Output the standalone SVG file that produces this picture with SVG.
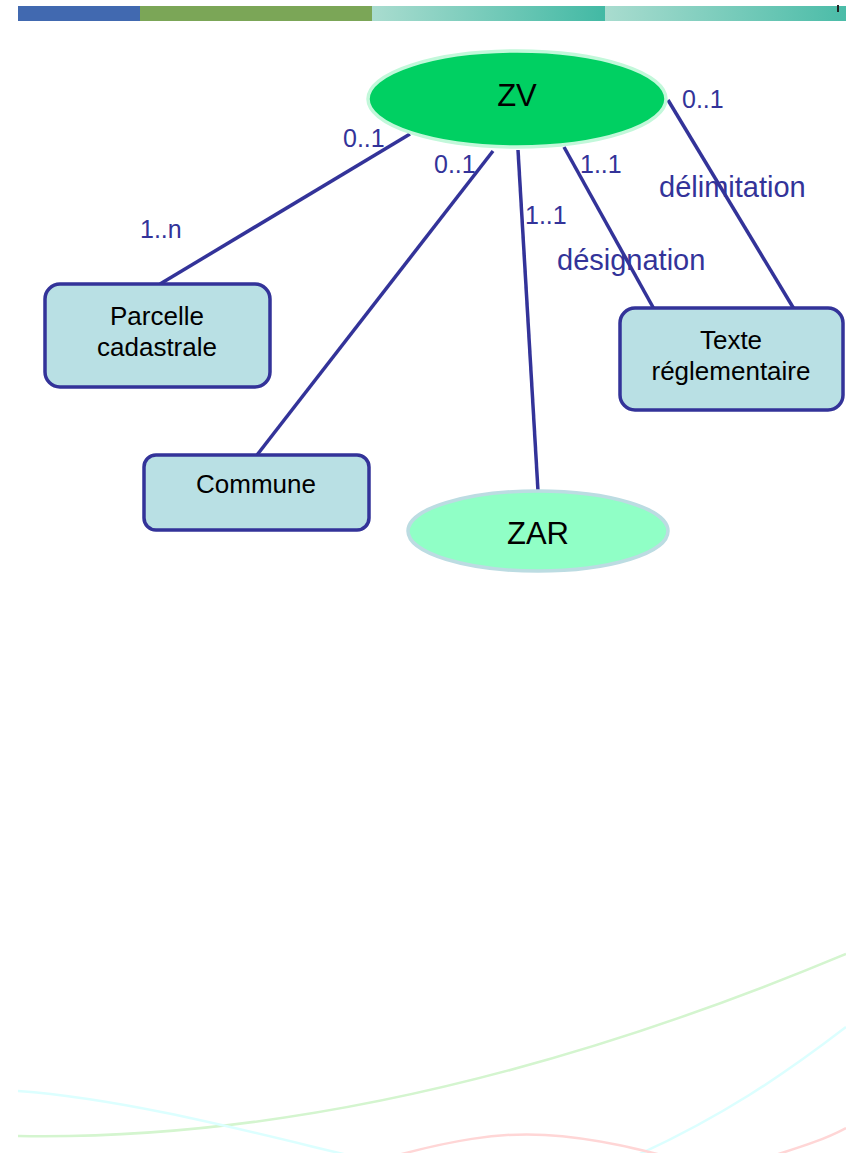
<svg xmlns="http://www.w3.org/2000/svg" width="846" height="1153" viewBox="0 0 846 1153">
  <defs>
    <linearGradient id="tealA" x1="0" y1="0" x2="1" y2="0">
      <stop offset="0" stop-color="#a9dccf"/>
      <stop offset="1" stop-color="#42b9a4"/>
    </linearGradient>
    <linearGradient id="tealB" x1="0" y1="0" x2="1" y2="0">
      <stop offset="0" stop-color="#a9dccf"/>
      <stop offset="1" stop-color="#4bbca8"/>
    </linearGradient>
    <style>
      .box { fill: #b9e0e4; stroke: #333399; stroke-width: 3.5; }
      .link { stroke: #333399; stroke-width: 3.5; fill: none; stroke-linecap: butt; }
      .lbl { font-family: "Liberation Sans", Arial, sans-serif; fill: #333399; font-size: 25px; }
      .role { font-family: "Liberation Sans", Arial, sans-serif; fill: #333399; font-size: 29px; }
      .name { font-family: "Liberation Sans", Arial, sans-serif; fill: #000000; font-size: 26px; text-anchor: middle; }
      .big { font-family: "Liberation Sans", Arial, sans-serif; fill: #000000; font-size: 31px; text-anchor: middle; }
      .wave { fill: none; stroke-width: 2.5; }
    </style>
  </defs>

  <rect width="846" height="1153" fill="#ffffff"/>

  <!-- header band -->
  <g id="header">
    <rect x="18" y="6" width="122" height="15" fill="#4169b0"/>
    <rect x="140" y="6" width="232" height="15" fill="#7ba657"/>
    <rect x="372" y="6" width="233" height="15" fill="url(#tealA)"/>
    <rect x="605" y="6" width="241" height="15" fill="url(#tealB)"/>
    <rect x="837" y="5" width="2" height="7" fill="#222222"/>
  </g>

  <!-- decorative waves -->
  <g id="waves">
    <path class="wave" stroke="#d4f5cf" d="M18,1136 C250,1140 520,1090 846,954"/>
    <path class="wave" stroke="#dcffff" d="M18,1091 C140,1100 280,1140 390,1165"/>
    <path class="wave" stroke="#dcffff" d="M615,1165 C720,1120 790,1070 846,1027"/>
    <path class="wave" stroke="#ffd6d6" d="M380,1160 C450,1140 500,1132 545,1135 C600,1138 650,1152 700,1165"/>
    <path class="wave" stroke="#ffd6d6" d="M760,1160 C790,1150 820,1142 846,1128"/>
  </g>

  <!-- connectors -->
  <g id="connectors">
    <line class="link" x1="410" y1="134" x2="160" y2="284"/>
    <line class="link" x1="493" y1="151" x2="257" y2="455"/>
    <line class="link" x1="518" y1="150" x2="538" y2="491"/>
    <line class="link" x1="564" y1="147" x2="654" y2="309"/>
    <line class="link" x1="668" y1="100" x2="794" y2="309"/>

    <text class="lbl" x="343" y="147">0..1</text>
    <text class="lbl" x="140" y="238">1..n</text>
    <text class="lbl" x="434" y="173">0..1</text>
    <text class="lbl" x="580" y="173">1..1</text>
    <text class="lbl" x="525" y="224">1..1</text>
    <text class="lbl" x="682" y="108">0..1</text>
    <text class="role" x="557" y="270">désignation</text>
    <text class="role" x="659" y="197">délimitation</text>
  </g>

  <g id="zv">
    <ellipse cx="517" cy="99" rx="149" ry="48" fill="#00d062" stroke="#c2f8da" stroke-width="3.5"/>
    <text class="big" x="517" y="106">ZV</text>
  </g>

  <g id="parcelle">
    <rect class="box" x="45" y="284" width="225" height="103" rx="15"/>
    <text class="name" x="157" y="325">Parcelle</text>
    <text class="name" x="157" y="356">cadastrale</text>
  </g>

  <g id="texte">
    <rect class="box" x="620" y="308" width="223" height="102" rx="15"/>
    <text class="name" x="731" y="349">Texte</text>
    <text class="name" x="731" y="380">réglementaire</text>
  </g>

  <g id="commune">
    <rect class="box" x="144" y="455" width="225" height="75" rx="12"/>
    <text class="name" x="256" y="493">Commune</text>
  </g>

  <g id="zar">
    <ellipse cx="538" cy="531" rx="130" ry="40" fill="#90ffc6" stroke="#bcdce2" stroke-width="3.5"/>
    <text class="big" x="538" y="544">ZAR</text>
  </g>
</svg>
